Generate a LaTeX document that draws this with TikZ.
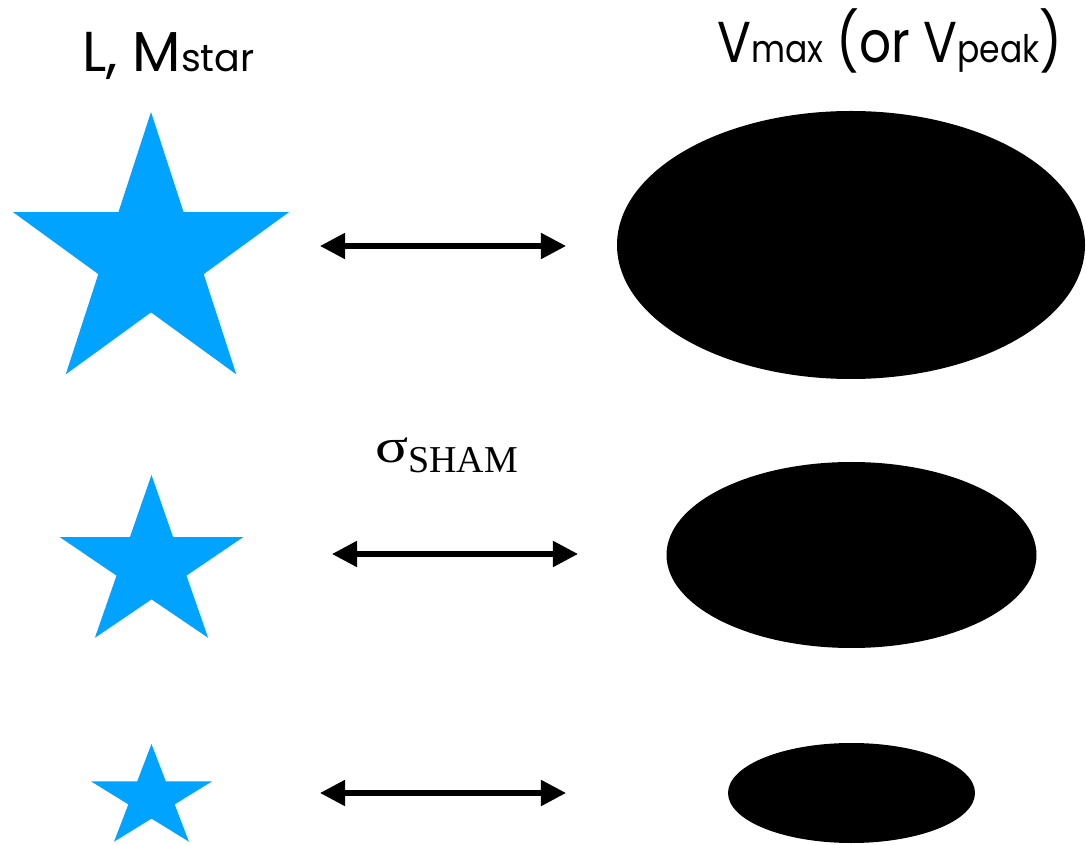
\documentclass[tikz,border=0pt]{standalone}
\usepackage{fontspec}
\setmainfont{Liberation Serif}
\newfontfamily\labelfont{Poppins}
\newfontfamily\narrowlabelfont[FakeStretch=0.87]{Poppins}
\usetikzlibrary{arrows.meta}
\definecolor{starblue}{RGB}{0,163,255}
\tikzset{
    twoway/.style={{Triangle[length=17.8pt,width=17.8pt]}-{Triangle[length=17.8pt,width=17.8pt]}, line width=3.6pt},
    halo/.style={fill=black},
    toplabel/.style={font=\labelfont\fontsize{40}{44}\selectfont, inner sep=0pt, anchor=base west},
}
\newcommand{\lowtext}[1]{{\fontsize{27}{30}\selectfont #1}}
% Stern: Mittelpunkt, Radius, x-Streckung
\newcommand{\drawstar}[3]{%
  \fill[starblue, shift={(#1)}, xscale=#3]
    (-90:#2) \foreach \k in {1,...,9} { -- (-90+36*\k:{(1-0.618*mod(\k,2))*#2}) } -- cycle;
}

\begin{document}
\begin{tikzpicture}[x=0.025cm, y=-0.025cm]
  \useasboundingbox (0,0) rectangle (1086,845);

  % Ueberschriften
  \node[toplabel] (lum) at (82,72) {L, M\lowtext{star}};
  \node[toplabel, font=\narrowlabelfont\fontsize{41}{44}\selectfont] (vel) at (717,63)
    {V\lowtext{max} (or V\lowtext{peak})};

  % Sterne
  \coordinate (big star) at (151,257);
  \coordinate (mid star) at (151.5,565);
  \coordinate (small star) at (151.5,798);
  \drawstar{big star}{145}{1}
  \drawstar{mid star}{90}{1.07}
  \drawstar{small star}{54}{1.18}

  % Halos
  \coordinate (big halo) at (851,245);
  \coordinate (mid halo) at (851.5,555);
  \coordinate (small halo) at (851.5,793);
  \fill[halo] (big halo) ellipse [x radius=234, y radius=134];
  \fill[halo] (mid halo) ellipse [x radius=185, y radius=93];
  \fill[halo] (small halo) ellipse [x radius=123.5, y radius=50];

  % Pfeile
  \coordinate (top left) at (320,246);
  \coordinate (top right) at (566,246);
  \coordinate (mid left) at (332,554);
  \coordinate (mid right) at (578,554);
  \coordinate (low left) at (320,793);
  \coordinate (low right) at (566,793);
  \draw[twoway] (top left) -- (top right);
  \draw[twoway] (mid left) -- (mid right);
  \draw[twoway] (low left) -- (low right);

  % Streuung
  \node[anchor=base west, inner sep=0pt, font=\fontsize{27}{30}\selectfont] (scatter) at (375,458)
    {\raisebox{-3pt}{\scalebox{1.15}[0.9]{\fontsize{38}{40}\selectfont σ}}\raisebox{-10pt}{SHAM}};

\end{tikzpicture}
\end{document}
